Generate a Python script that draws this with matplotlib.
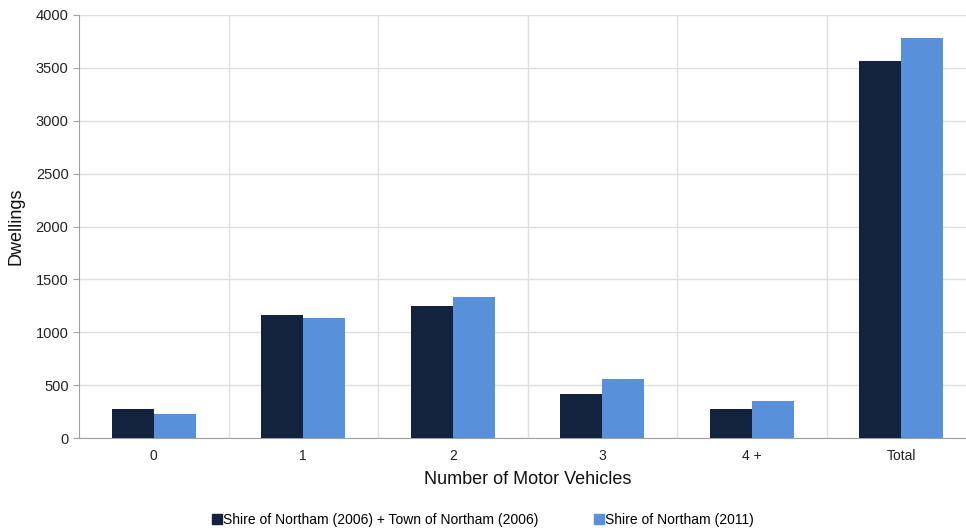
import numpy as np
import matplotlib.pyplot as plt
from matplotlib.patches import Patch

plt.rcParams['font.family'] = ['Liberation Sans', 'DejaVu Sans']

categories = ['0', '1', '2', '3', '4 +', 'Total']
dwellings_2006 = [272, 1163, 1251, 413, 271, 3565]
dwellings_2011 = [228, 1138, 1330, 558, 350, 3780]
series_names = ['Shire of Northam (2006) + Town of Northam (2006)', 'Shire of Northam (2011)']

dark = '#13233e'
light = '#5890da'

fig = plt.figure(figsize=(9.66, 5.28), dpi=100)
ax = fig.add_axes([79 / 966, 1 - 438 / 528, 897 / 966, 423 / 528])

x = np.arange(len(categories))
w = 0.28
ax.bar(x - w / 2, dwellings_2006, width=w, color=dark, zorder=3)
ax.bar(x + w / 2, dwellings_2011, width=w, color=light, zorder=3)

ax.set_xlim(-0.5, len(categories) - 0.5)
ax.set_ylim(0, 4000)
ax.set_yticks(np.arange(0, 4001, 500))
ax.set_xticks(x)
ax.set_xticklabels(categories)

# vertical grid lines between categories
ax.set_xticks(np.arange(0.5, len(categories) - 0.5, 1), minor=True)
ax.xaxis.grid(True, which='minor', color='#e0e0e0', linewidth=1)
ax.yaxis.grid(True, which='major', color='#e0e0e0', linewidth=1)
ax.set_axisbelow(True)

for side in ['top', 'right']:
    ax.spines[side].set_visible(False)
ax.spines['left'].set_color('#a0a0a0')
ax.spines['bottom'].set_color('#a0a0a0')
ax.tick_params(axis='y', colors='#a0a0a0', labelcolor='#222222', labelsize=10.5, length=4)
ax.tick_params(axis='x', which='both', length=0, labelcolor='#222222', labelsize=10, pad=8)

ax.set_xlabel('Number of Motor Vehicles', fontsize=13, color='#111111', labelpad=6)
ax.set_ylabel('Dwellings', fontsize=13, color='#111111', labelpad=8)

handles = [Patch(color=dark), Patch(color=light)]
fig.legend(handles, series_names, loc='lower center', bbox_to_anchor=(0.5, -0.022), ncol=2,
           frameon=False, fontsize=10, handlelength=0.7, handleheight=0.7,
           handletextpad=0.1, columnspacing=4.0)

fig.savefig('out.png', dpi=100)
